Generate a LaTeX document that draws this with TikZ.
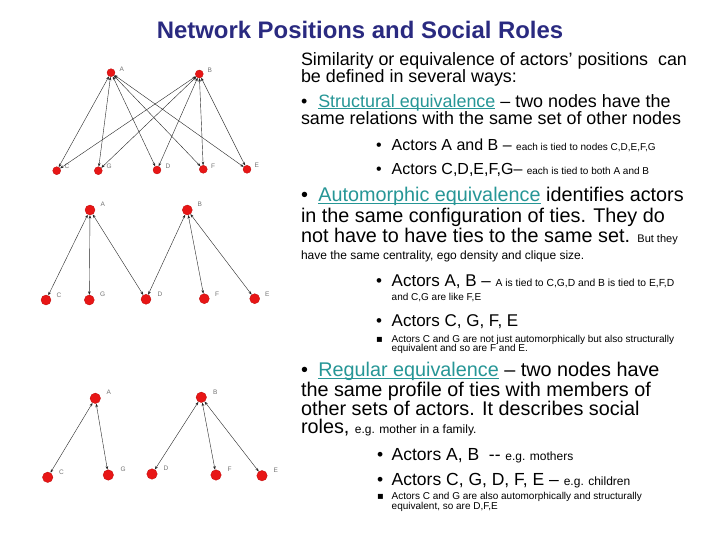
\documentclass[tikz,border=0pt]{standalone}
\usepackage{fontspec}
\setmainfont{Liberation Sans}
\newfontfamily\dejavu{DejaVu Sans}
\usetikzlibrary{arrows.meta}
\definecolor{titleblue}{RGB}{42,42,128}
\definecolor{tealu}{RGB}{38,150,150}
\definecolor{nodered}{RGB}{232,22,22}
\definecolor{nodeedge}{RGB}{190,10,10}
\newcommand{\fs}[1]{\fontsize{#1}{#1}\selectfont}
\newcommand{\teal}[1]{{\color{tealu}\setbox0\hbox{#1}\rlap{\rule[-1.7pt]{\wd0}{0.8pt}}\box0}}
\begin{document}
\begin{tikzpicture}[x=1pt,y=-1pt,
 txt/.style={anchor=base west, inner sep=0pt, outer sep=0pt},
 vtx/.style={circle, fill=nodered, draw=nodeedge, line width=0.3pt, inner sep=0pt, minimum size=#1},
 vtx/.default=10pt,
 vlab/.style={anchor=base west, inner sep=0pt, font=\fs{6.5}, text=black!55},
 tie/.style={{Stealth[length=3.5pt,width=2.6pt]}-{Stealth[length=3.5pt,width=2.6pt]}, line width=0.4pt, black!85}
]
\fill[white] (0,0) rectangle (720,540);
\useasboundingbox (0,0) rectangle (720,540);

% ---------- title ----------
\node[anchor=base, inner sep=0pt, font=\bfseries\fs{23.9}, text=titleblue] (title) at (360,38.3) {Network Positions and Social Roles};

% ---------- graph 1 : structural ----------
\node[vtx=8pt] (a1) at (111,72.7) {};
\node[vtx=8pt] (b1) at (199.3,74) {};
\node[vtx=8pt] (c1) at (56.7,170.7) {};
\node[vtx=8pt] (g1) at (98.3,170.7) {};
\node[vtx=8pt] (d1) at (157,170) {};
\node[vtx=8pt] (f1) at (203.3,169.3) {};
\node[vtx=8pt] (e1) at (247,169.3) {};
\node[vlab] (la1) at (119.5,71.5) {A};
\node[vlab] (lb1) at (207.5,72.5) {B};
\node[vlab] (lc1) at (64.5,169) {C};
\node[vlab] (lg1) at (106.5,169) {G};
\node[vlab] (ld1) at (165.5,168.5) {D};
\node[vlab] (lf1) at (211,168.5) {F};
\node[vlab] (le1) at (254.5,168) {E};
\foreach \t in {c1,g1,d1,f1,e1}{
  \draw[tie] (a1) -- (\t);
  \draw[tie] (b1) -- (\t);
}

% ---------- graph 2 : automorphic ----------
\node[vtx=10pt] (a2) at (90,210) {};
\node[vtx=10pt] (b2) at (187.3,210) {};
\node[vtx=10pt] (c2) at (46,300) {};
\node[vtx=10pt] (g2) at (89.3,300) {};
\node[vtx=10pt] (d2) at (146,299.3) {};
\node[vtx=10pt] (f2) at (204.3,298.7) {};
\node[vtx=10pt] (e2) at (254.7,298.7) {};
\node[vlab] (la2) at (100.5,206.5) {A};
\node[vlab] (lb2) at (197.5,206.5) {B};
\node[vlab] (lc2) at (56.5,297) {C};
\node[vlab] (lg2) at (100,296.5) {G};
\node[vlab] (ld2) at (157.5,296.5) {D};
\node[vlab] (lf2) at (215,296.5) {F};
\node[vlab] (le2) at (265,296) {E};
\foreach \t in {c2,g2,d2}{\draw[tie] (a2) -- (\t);}
\foreach \t in {d2,f2,e2}{\draw[tie] (b2) -- (\t);}

% ---------- graph 3 : regular ----------
\node[vtx=10.5pt] (a3) at (95.3,398.3) {};
\node[vtx=10.5pt] (b3) at (201.3,397.3) {};
\node[vtx=10.5pt] (c3) at (47.7,477.3) {};
\node[vtx=10.5pt] (g3) at (108.3,475) {};
\node[vtx=10.5pt] (d3) at (152,474) {};
\node[vtx=10.5pt] (f3) at (216,475) {};
\node[vtx=10.5pt] (e3) at (262,475.7) {};
\node[vlab] (la3) at (106.5,394) {A};
\node[vlab] (lb3) at (213,394) {B};
\node[vlab] (lc3) at (59,474) {C};
\node[vlab] (lg3) at (120.5,471.5) {G};
\node[vlab] (ld3) at (163.5,470.5) {D};
\node[vlab] (lf3) at (227.5,471.5) {F};
\node[vlab] (le3) at (273.5,472) {E};
\foreach \t in {c3,g3}{\draw[tie] (a3) -- (\t);}
\foreach \t in {d3,f3,e3}{\draw[tie] (b3) -- (\t);}

% ---------- text: structural ----------
\node[txt] (s1) at (301,66) {\fs{17.9}Similarity or equivalence of actors’ positions\ \ can};
\node[txt] (s2) at (301,82.3) {\fs{17.9}be defined in several ways:};
\node[txt] (s3b) at (301,107.5) {\fs{17.9}•};
\node[txt] (s3) at (318.3,107.5) {\fs{17.9}\teal{Structural equivalence} – two nodes have the};
\node[txt] (s4) at (301,124.5) {\fs{17.9}same relations with the same set of other nodes};
\node[txt] (s5b) at (376,150.7) {\fs{16}•};
\node[txt] (s5) at (391.7,150.7) {\fs{16}Actors A and B – {\fs{10}each is tied to nodes C,D,E,F,G}};
\node[txt] (s6b) at (376,175) {\fs{16}•};
\node[txt] (s6) at (391.7,175) {\fs{16}Actors C,D,E,F,G– {\fs{10}each is tied to both A and B}};

% ---------- text: automorphic ----------
\node[txt] (m1b) at (301,201.7) {\fs{19.8}•};
\node[txt] (m1) at (318.3,201.7) {\fs{19.8}\teal{Automorphic equivalence} identifies actors};
\node[txt] (m2) at (301,222.7) {\fs{19.8}in the same configuration of ties. They do};
\node[txt] (m3) at (301,242.7) {\fs{19.8}not have to have ties to the same set. {\fs{11}But they}};
\node[txt] (m4) at (301,259.3) {\fs{12}have the same centrality, ego density and clique size.};
\node[txt] (m5b) at (376,286) {\fs{17}•};
\node[txt] (m5) at (391.7,286) {\fs{17}Actors A, B – {\fs{10.3}A is tied to C,G,D and B is tied to E,F,D}};
\node[txt] (m6) at (391.7,300.7) {\fs{10}and C,G are like F,E};
\node[txt] (m7b) at (376,326.7) {\fs{17}•};
\node[txt] (m7) at (391.7,326.7) {\fs{17}Actors C, G, F, E};
\node[txt] (m8b) at (376,342.5) {\fs{10}\dejavu ▪};
\node[txt] (m8) at (391.7,342.5) {\fs{10}Actors C and G are not just automorphically but also structurally};
\node[txt] (m9) at (391.7,351.5) {\fs{10}equivalent and so are F and E.};

% ---------- text: regular ----------
\node[txt] (r1b) at (301,376.7) {\fs{19.8}•};
\node[txt] (r1) at (318.3,376.7) {\fs{19.8}\teal{Regular equivalence} – two nodes have};
\node[txt] (r2) at (301,396.7) {\fs{19.8}the same profile of ties with members of};
\node[txt] (r3) at (301,415.5) {\fs{19.8}other sets of actors. It describes social};
\node[txt] (r4) at (301,433.8) {\fs{19.8}roles, {\fs{12}e.g. mother in a family.}};
\node[txt] (r5b) at (377,460) {\fs{17.5}•};
\node[txt] (r5) at (391.7,460) {\fs{17.5}Actors A, B\ \ -{}- {\fs{12}e.g. mothers}};
\node[txt] (r6b) at (377,485) {\fs{17.5}•};
\node[txt] (r6) at (391.7,485) {\fs{17.5}Actors C, G, D, F, E – {\fs{12}e.g. children}};
\node[txt] (r7b) at (377,499) {\fs{10}\dejavu ▪};
\node[txt] (r7) at (391.7,499) {\fs{10}Actors C and G are also automorphically and structurally};
\node[txt] (r8) at (391.7,509.3) {\fs{10}equivalent, so are D,F,E};
\end{tikzpicture}
\end{document}
